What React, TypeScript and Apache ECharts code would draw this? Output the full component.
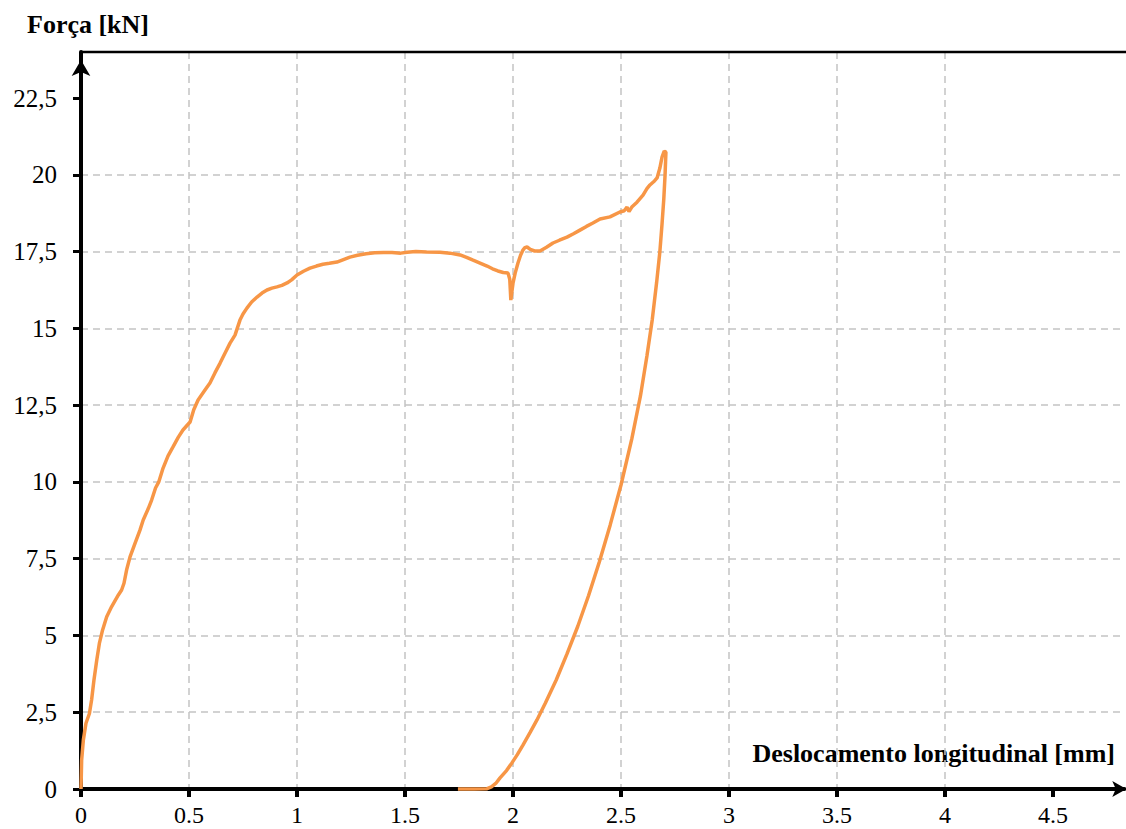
import React, { useEffect, useRef } from "react";
import * as echarts from "echarts";

// Displacement [mm] and force [kN] (loading then unloading)
const displacementMm: number[] = [
  0, 0.003, 0.011, 0.023, 0.039, 0.049, 0.06, 0.073, 0.085, 0.1, 0.119, 0.142, 0.173, 0.188, 0.199,
  0.211, 0.227, 0.25, 0.273, 0.288, 0.312, 0.327, 0.345, 0.36, 0.38, 0.403, 0.426, 0.45, 0.472, 0.505,
  0.522, 0.542, 0.57, 0.597, 0.62, 0.644, 0.667, 0.69, 0.713, 0.736, 0.75, 0.768, 0.79, 0.815, 0.838,
  0.861, 0.884, 0.907, 0.93, 0.954, 0.975, 1.0, 1.03, 1.06, 1.09, 1.12, 1.15, 1.185, 1.215, 1.245,
  1.28, 1.32, 1.36, 1.4, 1.44, 1.48, 1.51, 1.55, 1.6, 1.662, 1.708, 1.755, 1.785, 1.815, 1.85,
  1.88, 1.905, 1.93, 1.955, 1.977, 1.985, 1.99, 1.995, 2.0, 2.01, 2.023, 2.035, 2.046, 2.055, 2.065,
  2.08, 2.1, 2.125, 2.155, 2.185, 2.215, 2.25, 2.28, 2.31, 2.34, 2.37, 2.403, 2.449, 2.495, 2.515,
  2.528, 2.537, 2.55, 2.574, 2.602, 2.62, 2.634, 2.655, 2.667, 2.68, 2.69, 2.7, 2.708,
  2.704, 2.698, 2.69, 2.68, 2.665, 2.645, 2.62, 2.59, 2.55, 2.5, 2.45, 2.4, 2.35, 2.3,
  2.25, 2.2, 2.15, 2.111, 2.08, 2.046, 2.02, 1.995, 1.97, 1.94, 1.92, 1.9, 1.88, 1.82, 1.745,
];
const forceKn: number[] = [
  0, 0.94, 1.6, 2.14, 2.46, 2.9, 3.55, 4.2, 4.74, 5.18, 5.61, 5.94, 6.32, 6.48, 6.7,
  7.13, 7.56, 8.0, 8.43, 8.76, 9.14, 9.41, 9.8, 10.0, 10.45, 10.85, 11.14, 11.45, 11.69, 11.95,
  12.35, 12.67, 12.95, 13.22, 13.55, 13.87, 14.2, 14.52, 14.78, 15.27, 15.47, 15.66, 15.86, 16.02, 16.15,
  16.25, 16.31, 16.35, 16.4, 16.48, 16.58, 16.74, 16.86, 16.96, 17.03, 17.09, 17.12, 17.16, 17.24, 17.32,
  17.38, 17.43, 17.46, 17.47, 17.47, 17.45, 17.48, 17.5, 17.49, 17.48, 17.45, 17.39, 17.31, 17.22, 17.12,
  17.03, 16.94, 16.87, 16.82, 16.8, 16.6, 15.92, 16.2, 16.47, 16.8, 17.13, 17.38, 17.55, 17.63, 17.65,
  17.57, 17.52, 17.52, 17.64, 17.78, 17.87, 17.97, 18.08, 18.2, 18.32, 18.43, 18.56, 18.63, 18.79, 18.83,
  18.95, 18.8, 18.95, 19.11, 19.34, 19.55, 19.67, 19.8, 19.9, 20.22, 20.58, 20.77, 20.74,
  20.0, 19.2, 18.4, 17.5, 16.5, 15.3, 14.1, 12.8, 11.4, 9.9, 8.6, 7.4, 6.3, 5.3,
  4.4, 3.55, 2.8, 2.25, 1.85, 1.43, 1.12, 0.85, 0.6, 0.36, 0.18, 0.07, 0.01, 0, 0,
];

const xTicks: number[] = [0, 0.5, 1, 1.5, 2, 2.5, 3, 3.5, 4, 4.5];
const yTicks: number[] = [0, 2.5, 5, 7.5, 10, 12.5, 15, 17.5, 20, 22.5];

const X_MAX = 4.83;
const Y_MAX = 24;

const FONT = "'Liberation Serif', 'Times New Roman', serif";

export default function App() {
  const ref = useRef<HTMLDivElement>(null);

  useEffect(() => {
    if (!ref.current) return;
    const chart = echarts.init(ref.current, null, { renderer: "svg" });
    const data = displacementMm.map((x, i) => [x, forceKn[i]]);
    const gridLine = { show: true, showMaxLine: false, lineStyle: { color: "#c3c3c3", width: 1.5, type: [7, 5] } };
    chart.setOption({
      animation: false,
      backgroundColor: "#ffffff",
      textStyle: { fontFamily: FONT },
      grid: { left: 81, top: 52, width: X_MAX * 216, height: 737, outerBoundsMode: "none", containLabel: false },
      xAxis: {
        type: "value",
        min: 0,
        max: X_MAX,
        interval: 0.5,
        axisLine: {
          show: true,
          onZero: false,
          symbol: ["none", "arrow"],
          symbolSize: [12, 14],
          symbolOffset: [0, 2],
          lineStyle: { color: "#000", width: 4 },
        },
        axisTick: { show: true, length: 8, customValues: xTicks, lineStyle: { color: "#000", width: 4 } },
        axisLabel: {
          customValues: xTicks,
          margin: 14,
          color: "#000",
          fontFamily: FONT,
          fontSize: 24,
          formatter: (v: number) => String(v),
        },
        splitLine: gridLine,
      },
      yAxis: {
        type: "value",
        min: 0,
        max: Y_MAX,
        interval: 2.5,
        axisLine: {
          show: true,
          onZero: false,
          symbol: ["none", "arrow"],
          symbolSize: [14, 16],
          symbolOffset: [0, -8],
          lineStyle: { color: "#000", width: 4 },
        },
        axisTick: { show: true, length: 8, customValues: yTicks, lineStyle: { color: "#000", width: 3 } },
        axisLabel: {
          customValues: yTicks,
          margin: 24,
          color: "#000",
          fontFamily: FONT,
          fontSize: 25,
          formatter: (v: number) => String(v).replace(".", ","),
        },
        splitLine: gridLine,
      },
      graphic: [
        {
          type: "line",
          shape: { x1: 81, y1: 52, x2: 1126, y2: 52 },
          style: { stroke: "#000", lineWidth: 2.5 },
          z: 10,
        },
        {
          type: "text",
          x: 27,
          y: 24,
          style: {
            text: "Força [kN]",
            fontFamily: FONT,
            fontWeight: "bold",
            fontSize: 26,
            fill: "#000",
            align: "left",
            verticalAlign: "middle",
          },
        },
        {
          type: "text",
          x: 1115,
          y: 753,
          style: {
            text: "Deslocamento longitudinal [mm]",
            fontFamily: FONT,
            fontWeight: "bold",
            fontSize: 26,
            fill: "#000",
            align: "right",
            verticalAlign: "middle",
          },
        },
      ],
      series: [
        {
          type: "line",
          data,
          showSymbol: false,
          smooth: false,
          clip: false,
          lineStyle: { color: "#F79646", width: 3.5 },
          z: 5,
        },
      ],
    });
    return () => chart.dispose();
  }, []);

  return (
    <div
      ref={ref}
      style={{ position: "fixed", left: 0, top: 0, width: 1126, height: 829, background: "#fff" }}
    />
  );
}
